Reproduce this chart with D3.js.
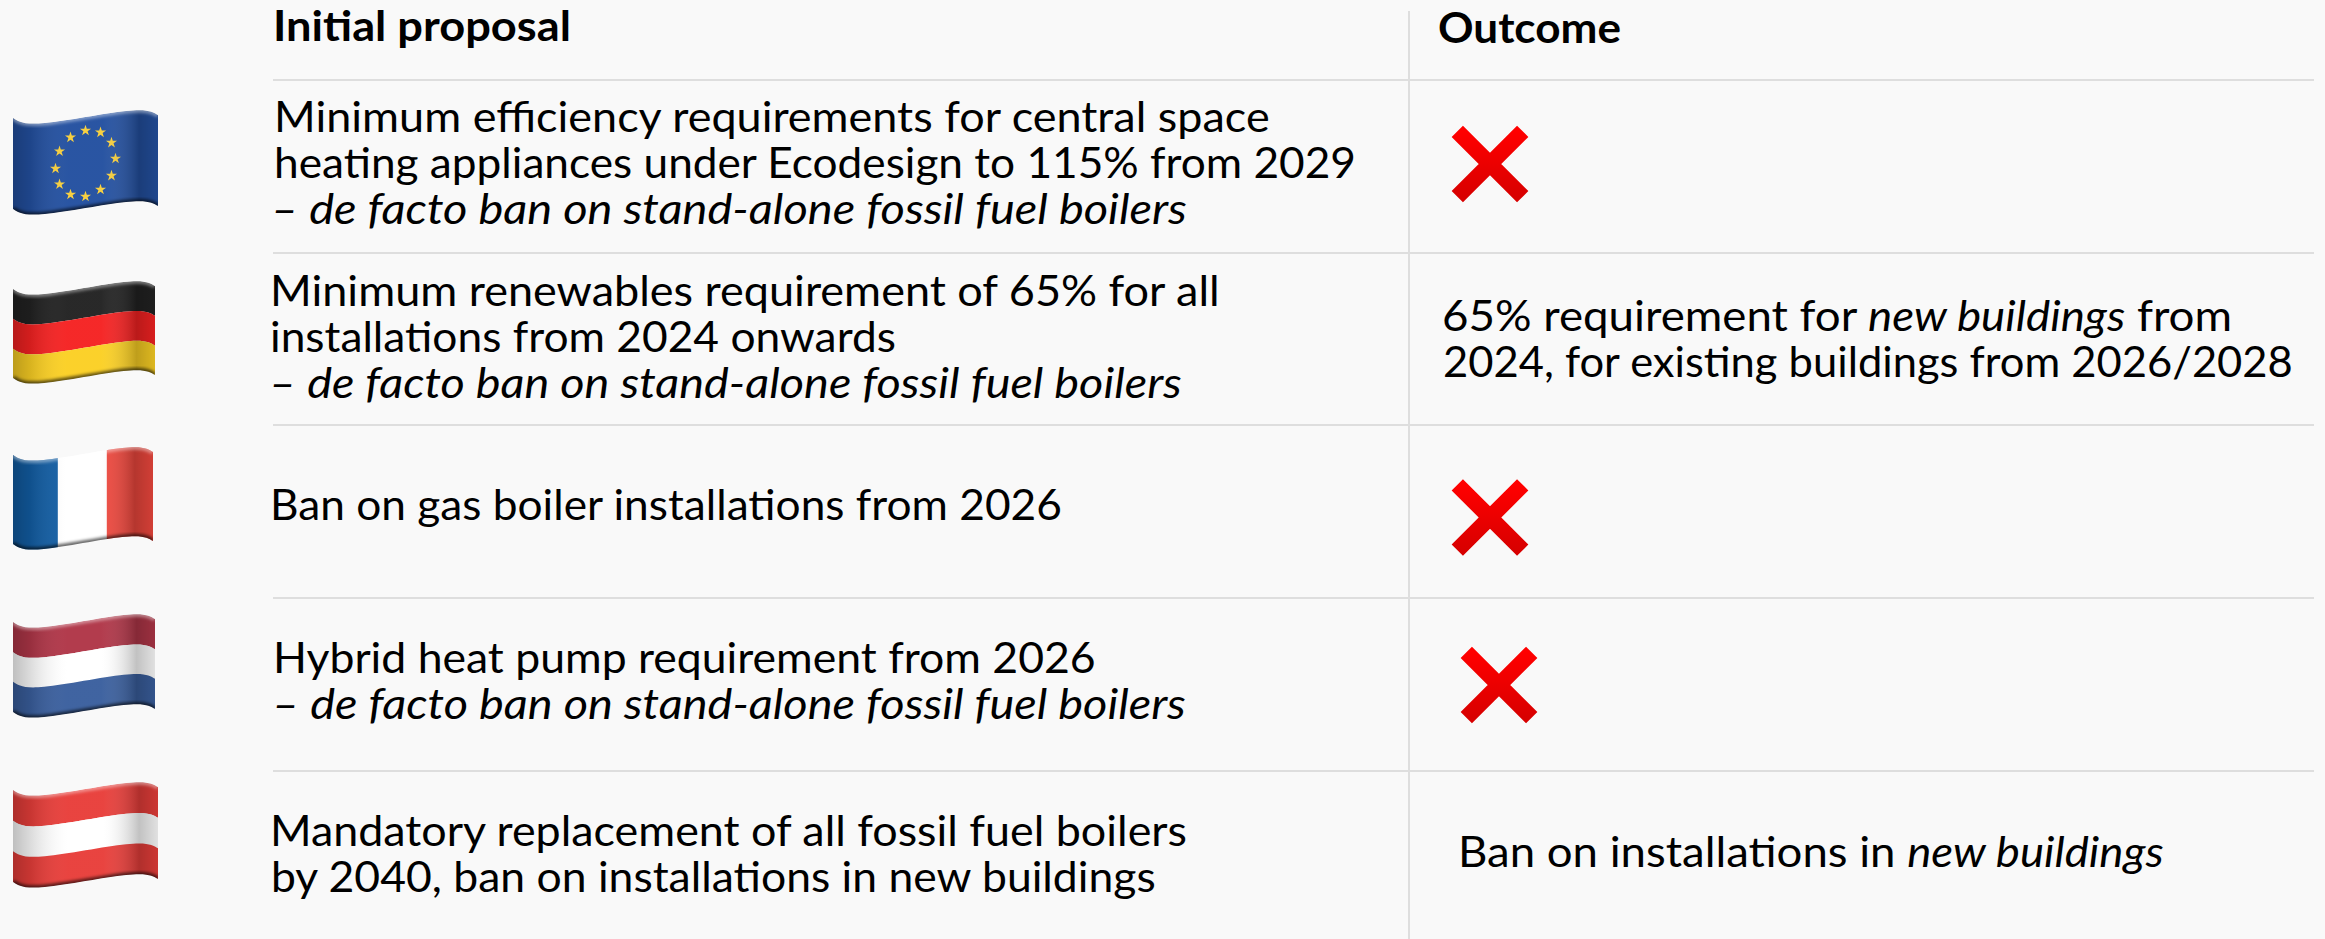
<!DOCTYPE html>
<html>
<head>
<meta charset="utf-8">
<title>Initial proposal and outcome</title>
<script src="https://cdn.jsdelivr.net/npm/d3@7"></script>
<style>
    html, body { margin: 0; padding: 0; background: #f9f9f9; overflow: hidden; }
    text { font-family: Lato, "Open Sans", sans-serif; fill: #000; }
</style>
</head>
<body>
<div id="chart"></div>
<script>
// Data
var headers = ["Initial proposal", "Outcome"];

// *...* marks italic parts of a line
var proposalLines = [
    "Minimum efficiency requirements for central space",
    "heating appliances under Ecodesign to 115% from 2029",
    "*– de facto ban on stand-alone fossil fuel boilers*",
    "Minimum renewables requirement of 65% for all",
    "installations from 2024 onwards",
    "*– de facto ban on stand-alone fossil fuel boilers*",
    "Ban on gas boiler installations from 2026",
    "Hybrid heat pump requirement from 2026",
    "*– de facto ban on stand-alone fossil fuel boilers*",
    "Mandatory replacement of all fossil fuel boilers",
    "by 2040, ban on installations in new buildings"
];

var outcomeLines = [
    "65% requirement for *new buildings* from",
    "2024, for existing buildings from 2026/2028",
    "Ban on installations in *new buildings*"
];

var flagCodes = ["eu", "de", "fr", "nl", "at"];
var rejectedRows = [0, 2, 3];

// Layout: [left, right, baseline]
var headerBoxes = [[273, 571, 41], [1438, 1621, 43]];
var proposalBoxes = [
    [274, 1270, 132], [274, 1356, 178], [271, 1187, 224],
    [270, 1220, 306], [270, 896, 352], [269, 1182, 398],
    [270, 1062, 520],
    [273, 1096, 673], [272, 1186, 719],
    [270, 1187, 846], [271, 1156, 892]
];
var outcomeBoxes = [[1442, 2232, 331], [1443, 2293, 377], [1458, 2164, 867]];

var ruleY = [80, 253, 425, 598, 771];
var ruleLeft = 273, ruleRight = 2314, columnX = 1409;

// [left, right, top at left edge, height]
var flagBoxes = {
    eu: [13, 158, 118, 91],
    de: [13, 155, 289, 89],
    fr: [13, 153, 455, 89],
    nl: [13, 155, 622, 90],
    at: [13, 158, 790, 92]
};
var crossCentres = [[1490, 164], [1490, 517.5], [1499, 685]];

var flagStripes = {
    eu: [["#2350a0", 0, 1]],
    de: [["#222222", 0, 0.335], ["#f52222", 0.335, 0.67], ["#fbd024", 0.67, 1]],
    nl: [["#b03648", 0, 0.335], ["#ffffff", 0.335, 0.665], ["#3a5f9e", 0.665, 1]],
    at: [["#e83e3a", 0, 0.335], ["#ffffff", 0.335, 0.665], ["#e83e3a", 0.665, 1]]
};
var frenchBands = [["#125da3", 0, 0.32], ["#ffffff", 0.32, 0.67], ["#ee473d", 0.67, 1]];

// the wave of the flag cloth, offsets in px from the left corner
var waveT = [0, 0.22, 0.78, 1];
var waveDy = [0, 5, -7, -3];

var width = 2325, height = 939;
var svg, defs;

function init() {
    svg = d3.select("#chart").append("svg")
        .attr("width", width)
        .attr("height", height)
        .style("display", "block");

    svg.append("rect")
        .attr("width", width)
        .attr("height", height)
        .attr("fill", "#f9f9f9");

    defs = svg.append("defs");
    initDefs();
    drawRules();
    flagCodes.forEach(drawFlag);
    drawCrosses();

    drawLines(headers, headerBoxes, 42, 700);
    drawLines(proposalLines, proposalBoxes, 42, 400);
    drawLines(outcomeLines, outcomeBoxes, 42, 400);
}

function initDefs() {
    var cloth = defs.append("linearGradient").attr("id", "clothShade");
    [[0, "#000", 0.25], [0.12, "#000", 0.14], [0.38, "#fff", 0.03], [0.62, "#fff", 0.03], [0.87, "#000", 0.24], [1, "#000", 0.12]]
        .forEach(function (s) {
            cloth.append("stop")
                .attr("offset", s[0])
                .attr("stop-color", s[1])
                .attr("stop-opacity", s[2]);
        });

    var red = defs.append("linearGradient")
        .attr("id", "crossRed")
        .attr("x1", 0).attr("y1", 0).attr("x2", 0).attr("y2", 1);
    red.append("stop").attr("offset", 0).attr("stop-color", "#ff0000");
    red.append("stop").attr("offset", 1).attr("stop-color", "#d80000");

    defs.append("filter")
        .attr("id", "edgeBlur")
        .attr("x", "-10%").attr("y", "-30%").attr("width", "120%").attr("height", "160%")
        .append("feGaussianBlur")
        .attr("stdDeviation", 1.6);
}

function drawRules() {
    svg.append("g").selectAll("line")
        .data(ruleY)
        .join("line")
        .attr("x1", ruleLeft)
        .attr("x2", ruleRight)
        .attr("y1", function (d) { return d; })
        .attr("y2", function (d) { return d; })
        .attr("stroke", "#dedede")
        .attr("stroke-width", 2);

    svg.append("line")
        .attr("x1", columnX)
        .attr("x2", columnX)
        .attr("y1", 11)
        .attr("y2", height)
        .attr("stroke", "#dedede")
        .attr("stroke-width", 2);
}

/**
 * Draws one waving flag: stripes, shading across the cloth, soft top and bottom edge
 * @param code
 */
function drawFlag(code) {
    var box = flagBoxes[code];
    var x = d3.scaleLinear().domain([0, 1]).range([box[0], box[1]]);
    var band = d3.scaleLinear().domain([0, 1]).range([box[2], box[2] + box[3]]);

    function cloth(v0, v1) {
        return d3.area()
            .curve(d3.curveNatural)
            .x(function (t) { return x(t); })
            .y0(function (t, i) { return band(v0) + waveDy[i]; })
            .y1(function (t, i) { return band(v1) + waveDy[i]; })(waveT);
    }

    function edge(v) {
        return d3.line()
            .curve(d3.curveNatural)
            .x(function (t) { return x(t); })
            .y(function (t, i) { return band(v) + waveDy[i]; })(waveT);
    }

    defs.append("clipPath")
        .attr("id", "clip-" + code)
        .append("path")
        .attr("d", cloth(0, 1));

    var g = svg.append("g").attr("clip-path", "url(#clip-" + code + ")");

    if (code === "fr") {
        g.selectAll("rect")
            .data(frenchBands)
            .join("rect")
            .attr("x", function (d) { return x(d[1]); })
            .attr("width", function (d) { return x(d[2]) - x(d[1]) + 1; })
            .attr("y", box[2] - 15)
            .attr("height", box[3] + 30)
            .attr("fill", function (d) { return d[0]; });
    } else {
        g.selectAll("path.stripe")
            .data(flagStripes[code])
            .join("path")
            .attr("class", "stripe")
            .attr("d", function (d) { return cloth(d[1], d[2]); })
            .attr("fill", function (d) { return d[0]; });
    }

    if (code === "eu") drawStars(g, box);

    g.append("rect")
        .attr("x", box[0])
        .attr("width", box[1] - box[0])
        .attr("y", box[2] - 15)
        .attr("height", box[3] + 30)
        .attr("fill", "url(#clothShade)");

    g.append("path")
        .attr("d", edge(0))
        .attr("fill", "none")
        .attr("stroke", "#fff")
        .attr("stroke-opacity", 0.4)
        .attr("stroke-width", 5)
        .attr("filter", "url(#edgeBlur)");

    g.append("path")
        .attr("d", edge(1))
        .attr("fill", "none")
        .attr("stroke", "#000")
        .attr("stroke-opacity", 0.6)
        .attr("stroke-width", 5)
        .attr("filter", "url(#edgeBlur)");
}

function drawStars(g, box) {
    var cx = (box[0] + box[1]) / 2;
    var cy = box[2] + 45.5;
    var star = d3.symbol().type(d3.symbolStar).size(38);

    g.selectAll("path.star")
        .data(d3.range(12))
        .join("path")
        .attr("class", "star")
        .attr("d", star)
        .attr("fill", "#f7cf3c")
        .attr("transform", function (i) {
            var a = i / 12 * 2 * Math.PI;
            var sx = cx + 30 * Math.sin(a);
            var sy = cy - 33 * Math.cos(a) - (sx - cx) / 6;
            return "translate(" + sx + "," + sy + ")";
        });
}

function drawCrosses() {
    svg.append("g").selectAll("path")
        .data(rejectedRows)
        .join("path")
        .attr("d", function (row, i) {
            var c = crossCentres[i], r = 32.7, p = d3.path();
            p.moveTo(c[0] - r, c[1] - r);
            p.lineTo(c[0] + r, c[1] + r);
            p.moveTo(c[0] + r, c[1] - r);
            p.lineTo(c[0] - r, c[1] + r);
            return p.toString();
        })
        .attr("fill", "none")
        .attr("stroke", "url(#crossRed)")
        .attr("stroke-width", 16);
}

/**
 * Draws text lines, squeezed sideways to the width they have in the picture
 * @param lines
 * @param boxes
 * @param size
 * @param weight
 */
function drawLines(lines, boxes, size, weight) {
    lines.forEach(function (line, i) {
        var box = boxes[i];
        var text = svg.append("text")
            .attr("font-size", size)
            .attr("font-weight", weight)
            .attr("xml:space", "preserve")
            .style("white-space", "pre");

        line.split("*").forEach(function (part, k) {
            if (part === "") return;
            text.append("tspan")
                .attr("font-style", k % 2 === 1 ? "italic" : "normal")
                .text(part);
        });

        var sx = (box[1] - box[0]) / text.node().getComputedTextLength();
        text.attr("transform", "translate(" + box[0] + "," + box[2] + ") scale(" + sx + ",1)");
    });
}

init();
</script>
</body>
</html>
